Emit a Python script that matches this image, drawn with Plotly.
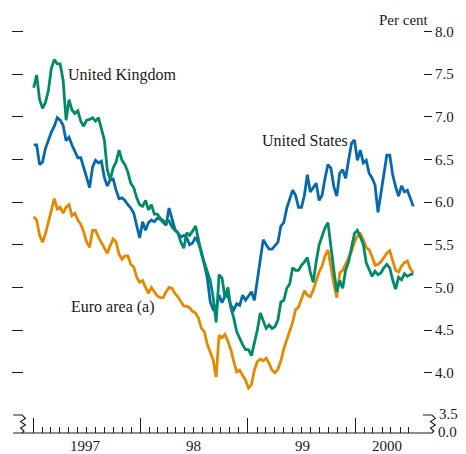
import pandas as pd
import plotly.graph_objects as go

# ---- data, 10-day sampling from Jan 1997 ----
dates = pd.date_range("1997-01-03", periods=130, freq="10D")

uk = [7.34, 7.49, 7.20, 7.10, 7.17, 7.31, 7.57, 7.67, 7.62, 7.62,
      7.43, 6.96, 7.20, 7.08, 7.04, 7.07, 6.95, 6.89, 6.96, 6.97,
      6.99, 6.95, 6.99, 6.87, 6.73, 6.38, 6.26, 6.40, 6.47, 6.61,
      6.49, 6.44, 6.35, 6.22, 6.17, 6.05, 5.97, 5.95, 6.02, 5.91,
      5.97, 5.86, 5.86, 5.81, 5.78, 5.76, 5.78, 5.71, 5.67, 5.64,
      5.53, 5.46, 5.64, 5.61, 5.66, 5.72, 5.56, 5.39, 5.29, 5.18,
      5.08, 4.88, 4.59, 5.15, 5.11, 4.88, 5.00, 4.76, 4.64, 4.48,
      4.40, 4.33, 4.27, 4.27, 4.20, 4.35, 4.50, 4.70, 4.62, 4.52,
      4.56, 4.52, 4.54, 4.62, 4.83, 4.85, 4.99, 5.04, 5.23, 5.20,
      5.20, 5.26, 5.30, 5.35, 5.18, 5.06, 5.30, 5.50, 5.60, 5.70,
      5.76, 5.46, 5.20, 4.95, 5.08, 4.99, 5.20, 5.30, 5.46, 5.63,
      5.67, 5.58, 5.51, 5.29, 5.20, 5.13, 5.19, 5.15, 5.17, 5.23,
      5.27, 5.23, 5.09, 4.98, 5.12, 5.09, 5.16, 5.13, 5.15, 5.16]

us = [6.67, 6.67, 6.44, 6.47, 6.63, 6.73, 6.82, 6.89, 6.99, 6.96,
      6.90, 6.72, 6.76, 6.67, 6.59, 6.52, 6.52, 6.40, 6.31, 6.17,
      6.41, 6.49, 6.46, 6.48, 6.29, 6.19, 6.26, 6.27, 6.14, 6.04,
      6.05, 6.02, 5.97, 5.93, 5.87, 5.71, 5.58, 5.77, 5.67, 5.76,
      5.79, 5.77, 5.81, 5.80, 5.76, 5.73, 5.93, 5.79, 5.68, 5.64,
      5.59, 5.61, 5.58, 5.50, 5.52, 5.59, 5.52, 5.42, 5.26, 5.11,
      4.83, 4.74, 4.74, 4.91, 4.82, 4.90, 4.90, 4.79, 4.74, 4.81,
      4.79, 4.91, 4.85, 4.90, 4.95, 4.85, 5.09, 5.32, 5.56, 5.50,
      5.45, 5.45, 5.49, 5.53, 5.72, 5.76, 5.93, 6.05, 6.14, 6.08,
      5.94, 5.94, 6.08, 6.32, 6.12, 6.17, 6.22, 6.02, 6.08, 6.28,
      6.44, 6.40, 6.18, 6.07, 6.34, 6.38, 6.28, 6.49, 6.69, 6.73,
      6.49, 6.61, 6.46, 6.49, 6.34, 6.28, 6.20, 5.88, 6.11, 6.32,
      6.55, 6.55, 6.32, 6.18, 6.07, 6.19, 6.12, 6.14, 6.05, 5.95]

euro = [5.83, 5.79, 5.61, 5.53, 5.63, 5.77, 5.88, 6.04, 5.92, 5.94,
        5.87, 5.94, 5.97, 5.84, 5.87, 5.79, 5.74, 5.65, 5.53, 5.47,
        5.67, 5.67, 5.59, 5.53, 5.46, 5.40, 5.49, 5.57, 5.53, 5.39,
        5.33, 5.37, 5.37, 5.27, 5.24, 5.12, 5.06, 5.08, 5.00, 4.93,
        5.00, 4.95, 4.90, 4.88, 4.88, 4.95, 5.00, 4.99, 4.93, 4.89,
        4.83, 4.78, 4.78, 4.76, 4.72, 4.70, 4.64, 4.52, 4.48, 4.33,
        4.24, 4.15, 3.95, 4.44, 4.41, 4.45, 4.37, 4.27, 4.13, 4.01,
        4.03, 3.97, 3.91, 3.82, 3.86, 4.03, 4.13, 4.16, 4.14, 4.17,
        4.11, 4.03, 4.00, 4.04, 4.14, 4.28, 4.40, 4.49, 4.59, 4.74,
        4.77, 4.86, 4.96, 4.91, 4.89, 4.97, 5.09, 5.18, 5.25, 5.37,
        5.44, 5.23, 5.04, 4.88, 5.17, 5.20, 5.27, 5.35, 5.42, 5.53,
        5.60, 5.63, 5.56, 5.47, 5.44, 5.36, 5.26, 5.27, 5.30, 5.35,
        5.40, 5.43, 5.30, 5.20, 5.18, 5.25, 5.29, 5.31, 5.22, 5.17]

year_ticks = ["1997-01-01", "1998-01-01", "1999-01-01", "2000-01-01"]
year_labels = ["1997", "98", "99", "2000"]
y_ticks = [4.0, 4.5, 5.0, 5.5, 6.0, 6.5, 7.0, 7.5, 8.0]
y_tick_text = ["4.0", "4.5", "5.0", "5.5", "6.0", "6.5", "7.0", "7.5", "8.0"]

# ---- styling ----
W, H = 466, 454
L, R, T, B = 24, 428, 31, 433          # plot area in pixels
FONT = "Liberation Serif"
INK = "#1a1a1a"
C_UK, C_US, C_EU = "#008a68", "#0868ac", "#e38a00"


def px(x):
    return (x - L) / (R - L)


def py(y):
    return (B - y) / (B - T)


fig = go.Figure()
line_w = 2.8
fig.add_trace(go.Scatter(x=dates, y=euro, mode="lines", line=dict(color=C_EU, width=line_w),
                         showlegend=False, hoverinfo="skip"))
fig.add_trace(go.Scatter(x=dates, y=us, mode="lines", line=dict(color=C_US, width=line_w),
                         showlegend=False, hoverinfo="skip"))
fig.add_trace(go.Scatter(x=dates, y=uk, mode="lines", line=dict(color=C_UK, width=line_w),
                         showlegend=False, hoverinfo="skip"))
# anchor trace so the right-hand axis is drawn
fig.add_trace(go.Scatter(x=[dates[0]], y=[None], yaxis="y2", mode="lines",
                         showlegend=False, hoverinfo="skip"))

yr = [3.2937, 8.0059]
month_ticks = [f"{y}-{m:02d}-01" for y in range(1997, 2001) for m in range(2, 13)
               if (y, m) <= (2000, 7)]

fig.update_layout(
    width=W, height=H,
    margin=dict(l=L, r=W - R, t=T, b=H - B, pad=0),
    paper_bgcolor="white", plot_bgcolor="white",
    font=dict(family=FONT, size=15, color=INK),
    xaxis=dict(range=["1996-12-01", "2000-08-18"], showgrid=False, zeroline=False,
               showline=False, tickmode="array", tickvals=year_ticks,
               ticktext=["", "", "", ""], ticks="inside", ticklen=15, tickwidth=1,
               tickcolor=INK, showticklabels=False,
               minor=dict(tickvals=month_ticks, ticks="inside", ticklen=6,
                          tickwidth=1, tickcolor=INK)),
    yaxis=dict(range=yr, showgrid=False, zeroline=False, showline=False,
               tickmode="array", tickvals=y_ticks, ticks="outside", ticklen=11,
               tickwidth=1, tickcolor=INK, showticklabels=False),
    yaxis2=dict(range=yr, overlaying="y", side="right", showgrid=False,
                zeroline=False, showline=False, tickmode="array", tickvals=y_ticks,
                ticktext=y_tick_text, ticks="outside", ticklen=8, tickwidth=1,
                tickcolor=INK, tickfont=dict(family=FONT, size=15, color=INK)),
)

# bottom axis line and broken-axis marks
shapes = [dict(type="line", xref="paper", yref="paper", x0=px(13), x1=px(437),
               y0=0, y1=0, line=dict(color=INK, width=1.2))]


def zig(x0, x1):
    pts = [(x0, 415), (x1, 415), (x1 + 3.5, 418.5), (x1 - 1.5, 421.5),
           (x1 + 3.5, 425), (x1 - 1.5, 428), (x1 + 2, 431), (x1, 433)]
    return "M " + " L ".join(f"{px(a):.4f},{py(b):.4f}" for a, b in pts)


for a, b in [(13, 22), (428, 437)]:
    shapes.append(dict(type="path", xref="paper", yref="paper", path=zig(a, b),
                       line=dict(color=INK, width=1.1)))
fig.update_layout(shapes=shapes)

ann = []


def text(s, x, y, xanchor="left", size=16):
    ann.append(dict(text=s, xref="paper", yref="paper", x=px(x), y=py(y),
                    xanchor=xanchor, yanchor="middle", showarrow=False,
                    font=dict(family=FONT, size=size, color=INK)))


text("Per cent", 436, 20, "right", 15)
text("United Kingdom", 67, 75)
text("United States", 263, 140)
text("Euro area (a)", 70, 307)
for lab, xc in zip(year_labels, [86.7, 196, 306, 392]):
    text(lab, xc, 446, "center", 15)
text("3.5", 442, 413.5, "left", 15)
text("0.0", 441, 432, "left", 15)
fig.update_layout(annotations=ann)

fig.write_html("out.html", config={"displayModeBar": False},
               post_script="document.body.style.margin='0';document.body.style.overflow='hidden';")
